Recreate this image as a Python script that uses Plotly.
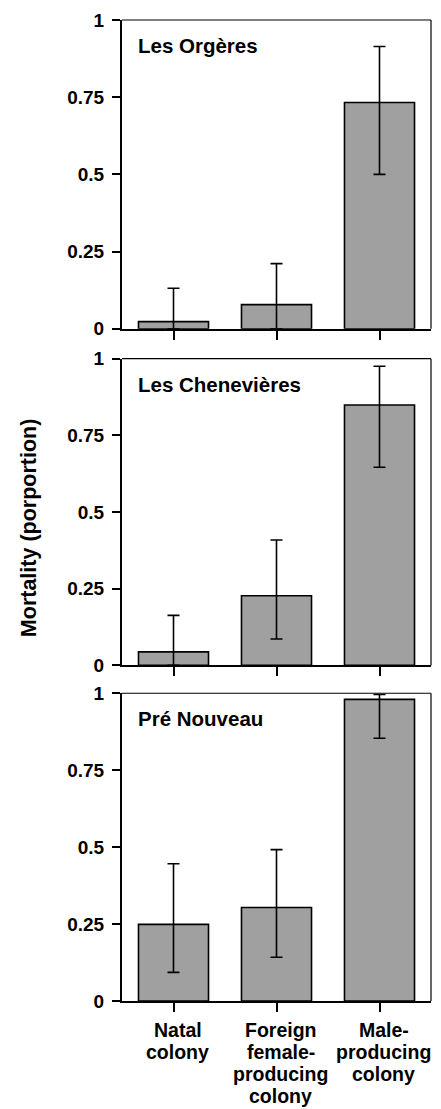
import plotly.graph_objects as go
from plotly.subplots import make_subplots

# ---- data ----
colonies = ["Les Orgères", "Les Chenevières", "Pré Nouveau"]
categories = ["Natal colony", "Foreign female-producing colony", "Male-producing colony"]
category_label_lines = [["Natal", "colony"],
                        ["Foreign", "female-", "producing", "colony"],
                        ["Male-", "producing", "colony"]]

orgeres_mortality = [0.023, 0.078, 0.733]
orgeres_upper = [0.131, 0.211, 0.914]
orgeres_lower = [0.0, 0.0, 0.500]

chenevieres_mortality = [0.044, 0.227, 0.849]
chenevieres_upper = [0.163, 0.409, 0.975]
chenevieres_lower = [0.0, 0.086, 0.646]

prenouveau_mortality = [0.249, 0.304, 0.980]
prenouveau_upper = [0.446, 0.492, 0.996]
prenouveau_lower = [0.093, 0.142, 0.854]

y_tickvals = [0, 0.25, 0.5, 0.75, 1]
y_ticktext = ["0", "0.25", "0.5", "0.75", "1"]
y_title = "Mortality (porportion)"

panels = [
    (orgeres_mortality, orgeres_upper, orgeres_lower),
    (chenevieres_mortality, chenevieres_upper, chenevieres_lower),
    (prenouveau_mortality, prenouveau_upper, prenouveau_lower),
]

FONT = "Arial, Liberation Sans, Helvetica, sans-serif"

# ---- figure ----
fig = make_subplots(rows=3, cols=1, vertical_spacing=0.03)

domains = [[0.6853, 1.0], [0.3421, 0.6548], [0.0, 0.3137]]

for i, (vals, up, lo) in enumerate(panels):
    r = i + 1
    fig.add_trace(go.Bar(
        x=categories, y=vals, width=0.68,
        marker=dict(color="#a0a0a0", line=dict(color="black", width=1.6)),
        error_y=dict(type="data", symmetric=False,
                     array=[u - v for u, v in zip(up, vals)],
                     arrayminus=[v - l for v, l in zip(vals, lo)],
                     color="black", thickness=1.6, width=6),
        showlegend=False, hoverinfo="skip",
    ), row=r, col=1)

    xa = "xaxis" if r == 1 else f"xaxis{r}"
    ya = "yaxis" if r == 1 else f"yaxis{r}"
    fig.layout[xa].update(
        domain=[0, 1], range=[-0.5, 2.5], showline=True, linecolor="black", linewidth=2,
        ticks="outside", ticklen=9, tickwidth=1.6, tickcolor="black",
        showticklabels=False, showgrid=False, zeroline=False,
    )
    fig.layout[ya].update(
        domain=domains[i], range=[0, 1], showline=True, linecolor="black", linewidth=2,
        ticks="outside", ticklen=8, tickwidth=1.6, tickcolor="black",
        tickvals=y_tickvals, ticktext=y_ticktext, ticklabelstandoff=4,
        tickfont=dict(family=FONT, size=19, color="black", weight="bold"),
        showgrid=False, zeroline=False,
    )
    xref = "x" if r == 1 else f"x{r}"
    yref = "y" if r == 1 else f"y{r}"
    # top and right frame lines
    fig.add_shape(type="line", xref=f"{xref} domain", yref=f"{yref} domain",
                  x0=0, x1=1, y0=1, y1=1, line=dict(color="black", width=1.2))
    fig.add_shape(type="line", xref=f"{xref} domain", yref=f"{yref} domain",
                  x0=1, x1=1, y0=0, y1=1, line=dict(color="black", width=1.2))
    # panel title
    fig.add_annotation(text=colonies[i], xref=f"{xref} domain", yref=f"{yref} domain",
                       x=0.045, y=0.917, xanchor="left", yanchor="middle", showarrow=False,
                       font=dict(family=FONT, size=20.5, color="black", weight="bold"))

# category labels under bottom panel (line by line, tight spacing)
n_cat = len(categories)
for k, lines in enumerate(category_label_lines):
    for j, line in enumerate(lines):
        fig.add_annotation(text=line, xref="paper", yref="y3", x=(k + 0.5) / n_cat, y=0,
                           xanchor="center", yanchor="middle", showarrow=False,
                           xshift=4, yshift=-(29 + j * 22), borderpad=0,
                           font=dict(family=FONT, size=19.5, color="black", weight="bold"))

# y-axis title
fig.add_annotation(text=y_title, xref="paper", yref="paper", x=0, y=0.482,
                   xshift=-93, xanchor="center", yanchor="middle", textangle=-90,
                   showarrow=False,
                   font=dict(family=FONT, size=21.5, color="black", weight="bold"))

fig.update_layout(
    width=441, height=1109,
    margin=dict(l=122, r=10, t=16, b=108),
    paper_bgcolor="white", plot_bgcolor="white",
    bargap=0.32,
)

fig.write_html("out.html", config={"displayModeBar": False},
               post_script="document.body.style.margin='0';document.body.style.overflow='hidden';")
